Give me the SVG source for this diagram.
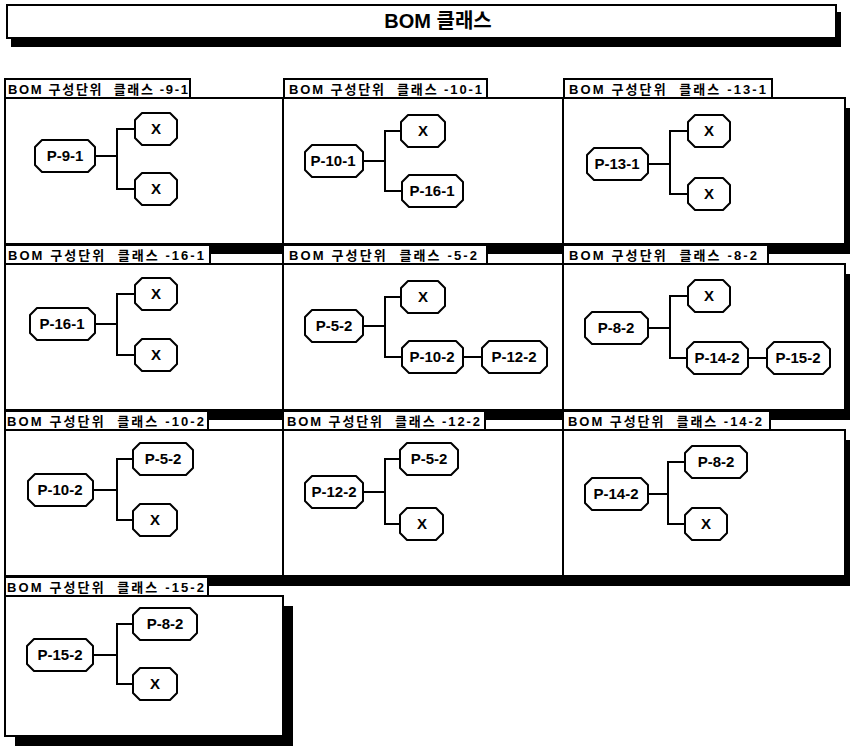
<svg xmlns="http://www.w3.org/2000/svg" width="850" height="749" viewBox="0 0 850 749">
<style>
.bg{fill:#fff}
.box{fill:#fff;stroke:#000;stroke-width:2}
.sh{fill:#000}
.lbl{font-family:"Liberation Sans","Noto Sans CJK KR",sans-serif;font-weight:bold;font-size:13px;fill:#000;white-space:pre}
.ttl{font-family:"Liberation Sans","Noto Sans CJK KR",sans-serif;font-weight:bold;font-size:20px;fill:#000;text-anchor:middle}
.node{fill:#fff;stroke:#000;stroke-width:2;stroke-linejoin:round}
.nt{font-family:"Liberation Sans",Arial,sans-serif;font-weight:bold;font-size:15px;fill:#000;text-anchor:middle}
.conn{fill:none;stroke:#000;stroke-width:2}
</style>
<rect class="bg" x="0" y="0" width="850" height="749"/>

<g id="title">
<rect class="sh" x="11" y="12" width="830" height="35"/>
<rect class="box" x="7" y="5" width="829" height="33"/>
<text class="ttl" x="438" y="28">BOM 클래스</text>
</g>

<!-- Row 1 -->
<g id="panel-9-1">
<rect class="sh" x="15" y="108" width="278" height="146"/>
<rect class="box" x="5" y="79" width="185" height="19"/>
<rect class="box" x="5" y="98" width="278" height="146"/>
<text class="lbl" x="8" y="94" textLength="180" lengthAdjust="spacing">BOM 구성단위  클래스 -9-1</text>
</g>
<g id="panel-10-1">
<rect class="sh" x="293" y="108" width="280" height="146"/>
<rect class="box" x="284" y="79" width="203" height="19"/>
<rect class="box" x="283" y="98" width="280" height="146"/>
<text class="lbl" x="289" y="94" textLength="193" lengthAdjust="spacing">BOM 구성단위  클래스 -10-1</text>
</g>
<g id="panel-13-1">
<rect class="sh" x="573" y="108" width="282" height="146"/>
<rect class="box" x="564" y="79" width="208" height="19"/>
<rect class="box" x="563" y="98" width="282" height="146"/>
<text class="lbl" x="569" y="94" textLength="197" lengthAdjust="spacing">BOM 구성단위  클래스 -13-1</text>
</g>

<!-- Row 2 -->
<g id="panel-16-1">
<rect class="sh" x="15" y="274" width="278" height="146"/>
<rect class="box" x="5" y="245" width="205" height="19"/>
<rect class="box" x="5" y="264" width="278" height="146"/>
<text class="lbl" x="8" y="260" textLength="196" lengthAdjust="spacing">BOM 구성단위  클래스 -16-1</text>
</g>
<g id="panel-5-2">
<rect class="sh" x="293" y="274" width="280" height="146"/>
<rect class="box" x="283" y="245" width="204" height="19"/>
<rect class="box" x="283" y="264" width="280" height="146"/>
<text class="lbl" x="289" y="260" textLength="188" lengthAdjust="spacing">BOM 구성단위  클래스 -5-2</text>
</g>
<g id="panel-8-2">
<rect class="sh" x="573" y="274" width="282" height="146"/>
<rect class="box" x="563" y="245" width="205" height="19"/>
<rect class="box" x="563" y="264" width="282" height="146"/>
<text class="lbl" x="569" y="260" textLength="188" lengthAdjust="spacing">BOM 구성단위  클래스 -8-2</text>
</g>

<!-- Row 3 -->
<g id="panel-10-2">
<rect class="sh" x="15" y="440" width="278" height="146"/>
<rect class="box" x="5" y="411" width="203" height="19"/>
<rect class="box" x="5" y="430" width="278" height="146"/>
<text class="lbl" x="7" y="426" textLength="197" lengthAdjust="spacing">BOM 구성단위  클래스 -10-2</text>
</g>
<g id="panel-12-2">
<rect class="sh" x="293" y="440" width="280" height="146"/>
<rect class="box" x="283" y="411" width="202" height="19"/>
<rect class="box" x="283" y="430" width="280" height="146"/>
<text class="lbl" x="287" y="426" textLength="193" lengthAdjust="spacing">BOM 구성단위  클래스 -12-2</text>
</g>
<g id="panel-14-2">
<rect class="sh" x="573" y="440" width="282" height="146"/>
<rect class="box" x="563" y="411" width="207" height="19"/>
<rect class="box" x="563" y="430" width="282" height="146"/>
<text class="lbl" x="568" y="426" textLength="194" lengthAdjust="spacing">BOM 구성단위  클래스 -14-2</text>
</g>

<!-- Row 4 -->
<g id="panel-15-2">
<rect class="sh" x="15" y="606" width="278" height="140"/>
<rect class="box" x="5" y="577" width="203" height="19"/>
<rect class="box" x="5" y="596" width="278" height="140"/>
<text class="lbl" x="7" y="592" textLength="197" lengthAdjust="spacing">BOM 구성단위  클래스 -15-2</text>
</g>

<g id="connectors">
<path class="conn" d="M95 156H117M135 129H117V189H135"/>
<path class="conn" d="M363 161H385M401 131H385V191H402"/>
<path class="conn" d="M648 164H670M688 131H670V194H688"/>
<path class="conn" d="M95 324H117M135 294H117V355H135"/>
<path class="conn" d="M363 326H385M401 297H385V357H402M463 357H482"/>
<path class="conn" d="M648 328H670M688 296H670V358H687M748 358H767"/>
<path class="conn" d="M93 490H117M133 459H117V520H133"/>
<path class="conn" d="M363 492H385M400 459H385V524H400"/>
<path class="conn" d="M648 494H668M685 462H668V524H685"/>
<path class="conn" d="M93 655H117M133 624H117V684H133"/>
</g>

<g id="n-p-9-1"><polygon class="node" points="42,140 88,140 95,147 95,165 88,172 42,172 35,165 35,147"/><text class="nt" x="65" y="161">P-9-1</text></g>
<g id="n-x-9-1a"><polygon class="node" points="142,113 170,113 177,120 177,138 170,145 142,145 135,138 135,120"/><text class="nt" x="156" y="134">X</text></g>
<g id="n-x-9-1b"><polygon class="node" points="142,173 170,173 177,180 177,198 170,205 142,205 135,198 135,180"/><text class="nt" x="156" y="194">X</text></g>

<g id="n-p-10-1"><polygon class="node" points="312,145 356,145 363,152 363,170 356,177 312,177 305,170 305,152"/><text class="nt" x="333" y="166">P-10-1</text></g>
<g id="n-x-10-1"><polygon class="node" points="408,115 438,115 445,122 445,140 438,147 408,147 401,140 401,122"/><text class="nt" x="423" y="136">X</text></g>
<g id="n-p-16-1a"><polygon class="node" points="409,175 456,175 463,182 463,200 456,207 409,207 402,200 402,182"/><text class="nt" x="432" y="196">P-16-1</text></g>

<g id="n-p-13-1"><polygon class="node" points="594,148 641,148 648,155 648,173 641,180 594,180 587,173 587,155"/><text class="nt" x="617" y="169">P-13-1</text></g>
<g id="n-x-13-1a"><polygon class="node" points="695,115 723,115 730,122 730,140 723,147 695,147 688,140 688,122"/><text class="nt" x="709" y="136">X</text></g>
<g id="n-x-13-1b"><polygon class="node" points="695,178 723,178 730,185 730,203 723,210 695,210 688,203 688,185"/><text class="nt" x="709" y="199">X</text></g>

<g id="n-p-16-1"><polygon class="node" points="37,308 88,308 95,315 95,333 88,340 37,340 30,333 30,315"/><text class="nt" x="62" y="329">P-16-1</text></g>
<g id="n-x-16-1a"><polygon class="node" points="142,278 170,278 177,285 177,303 170,310 142,310 135,303 135,285"/><text class="nt" x="156" y="299">X</text></g>
<g id="n-x-16-1b"><polygon class="node" points="142,339 170,339 177,346 177,364 170,371 142,371 135,364 135,346"/><text class="nt" x="156" y="360">X</text></g>

<g id="n-p-5-2"><polygon class="node" points="312,310 356,310 363,317 363,335 356,342 312,342 305,335 305,317"/><text class="nt" x="334" y="331">P-5-2</text></g>
<g id="n-x-5-2"><polygon class="node" points="408,281 438,281 445,288 445,306 438,313 408,313 401,306 401,288"/><text class="nt" x="423" y="302">X</text></g>
<g id="n-p-10-2a"><polygon class="node" points="409,341 456,341 463,348 463,366 456,373 409,373 402,366 402,348"/><text class="nt" x="432" y="362">P-10-2</text></g>
<g id="n-p-12-2a"><polygon class="node" points="489,341 540,341 547,348 547,366 540,373 489,373 482,366 482,348"/><text class="nt" x="514" y="362">P-12-2</text></g>

<g id="n-p-8-2"><polygon class="node" points="592,312 641,312 648,319 648,337 641,344 592,344 585,337 585,319"/><text class="nt" x="616" y="333">P-8-2</text></g>
<g id="n-x-8-2"><polygon class="node" points="695,280 723,280 730,287 730,305 723,312 695,312 688,305 688,287"/><text class="nt" x="709" y="301">X</text></g>
<g id="n-p-14-2a"><polygon class="node" points="694,342 741,342 748,349 748,367 741,374 694,374 687,367 687,349"/><text class="nt" x="717" y="363">P-14-2</text></g>
<g id="n-p-15-2a"><polygon class="node" points="774,342 823,342 830,349 830,367 823,374 774,374 767,367 767,349"/><text class="nt" x="798" y="363">P-15-2</text></g>

<g id="n-p-10-2"><polygon class="node" points="35,474 86,474 93,481 93,499 86,506 35,506 28,499 28,481"/><text class="nt" x="60" y="495">P-10-2</text></g>
<g id="n-p-5-2b"><polygon class="node" points="140,443 186,443 193,450 193,468 186,475 140,475 133,468 133,450"/><text class="nt" x="163" y="464">P-5-2</text></g>
<g id="n-x-10-2"><polygon class="node" points="140,504 170,504 177,511 177,529 170,536 140,536 133,529 133,511"/><text class="nt" x="155" y="525">X</text></g>

<g id="n-p-12-2"><polygon class="node" points="312,476 356,476 363,483 363,501 356,508 312,508 305,501 305,483"/><text class="nt" x="334" y="497">P-12-2</text></g>
<g id="n-p-5-2c"><polygon class="node" points="407,443 451,443 458,450 458,468 451,475 407,475 400,468 400,450"/><text class="nt" x="429" y="464">P-5-2</text></g>
<g id="n-x-12-2"><polygon class="node" points="407,508 436,508 443,515 443,533 436,540 407,540 400,533 400,515"/><text class="nt" x="422" y="529">X</text></g>

<g id="n-p-14-2"><polygon class="node" points="592,478 641,478 648,485 648,503 641,510 592,510 585,503 585,485"/><text class="nt" x="616" y="499">P-14-2</text></g>
<g id="n-p-8-2b"><polygon class="node" points="692,446 740,446 747,453 747,471 740,478 692,478 685,471 685,453"/><text class="nt" x="716" y="467">P-8-2</text></g>
<g id="n-x-14-2"><polygon class="node" points="692,508 720,508 727,515 727,533 720,540 692,540 685,533 685,515"/><text class="nt" x="706" y="529">X</text></g>

<g id="n-p-15-2"><polygon class="node" points="34,639 86,639 93,646 93,664 86,671 34,671 27,664 27,646"/><text class="nt" x="60" y="660">P-15-2</text></g>
<g id="n-p-8-2c"><polygon class="node" points="140,608 190,608 197,615 197,633 190,640 140,640 133,633 133,615"/><text class="nt" x="165" y="629">P-8-2</text></g>
<g id="n-x-15-2"><polygon class="node" points="140,668 170,668 177,675 177,693 170,700 140,700 133,693 133,675"/><text class="nt" x="155" y="689">X</text></g>
</svg>
